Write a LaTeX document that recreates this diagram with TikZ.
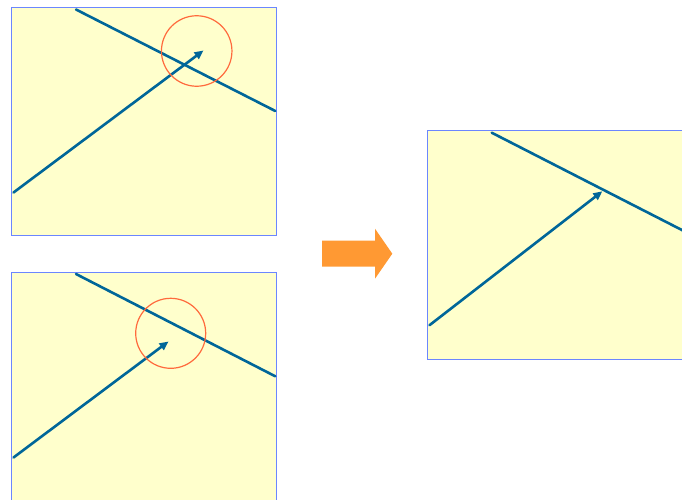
\documentclass[tikz,border=0pt]{standalone}
\usetikzlibrary{arrows.meta}
\definecolor{panelfill}{HTML}{FFFFCC}
\definecolor{paneledge}{HTML}{6B86FF}
\definecolor{raycol}{HTML}{006699}
\definecolor{ringcol}{HTML}{FF6A3D}
\definecolor{bigarrow}{HTML}{FF9933}
\begin{document}
\begin{tikzpicture}[x=1pt,y=-1pt,
  panel/.style={fill=panelfill,draw=paneledge,line width=1pt},
  wall/.style={draw=raycol,line width=2.6pt,line cap=round},
  ray/.style={draw=raycol,line width=2.6pt,line cap=round,
    -{Triangle[length=9pt,width=8pt]}},
  ring/.style={draw=ringcol,line width=1.2pt}]
\useasboundingbox (0,0) rectangle (682,500);
\clip (0,0) rectangle (682,500);

% upper left panel: ray overshoots the wall
\draw[panel] (11,7.5) rectangle (276,235.5);
\coordinate (w1a) at (76,9.5);
\coordinate (w1b) at (275.3,111);
\coordinate (r1a) at (13.5,192.5);
\coordinate (r1b) at (203.5,50.5);
\draw[wall] (w1a) -- (w1b);
\draw[ray] (r1a) -- (r1b);
\node[ring,circle,minimum size=70.5pt,inner sep=0pt] (c1) at (196.7,51) {};

% lower left panel: ray stops short of the wall
\draw[panel] (11,272) rectangle (276,510);
\coordinate (w2a) at (76,274);
\coordinate (w2b) at (275.3,376.3);
\coordinate (r2a) at (13.5,457.5);
\coordinate (r2b) at (168.5,341.5);
\draw[wall] (w2a) -- (w2b);
\draw[ray] (r2a) -- (r2b);
\node[ring,circle,minimum size=70pt,inner sep=0pt] (c2) at (170.7,333.3) {};

% orange transition arrow
\fill[bigarrow] (322,240.5) -- (375,240.5) -- (375,228.7) -- (392.3,253.7)
  -- (375,278.7) -- (375,266.5) -- (322,266.5) -- cycle;

% right panel: ray meets the wall exactly
\draw[panel] (427,130.5) rectangle (700,359.5);
\coordinate (w3a) at (491.7,132.7);
\coordinate (w3b) at (694,236.2);
\coordinate (r3a) at (429.5,325.2);
\coordinate (r3b) at (602.3,191.3);
\draw[wall] (w3a) -- (w3b);
\draw[ray] (r3a) -- (r3b);
\end{tikzpicture}
\end{document}
